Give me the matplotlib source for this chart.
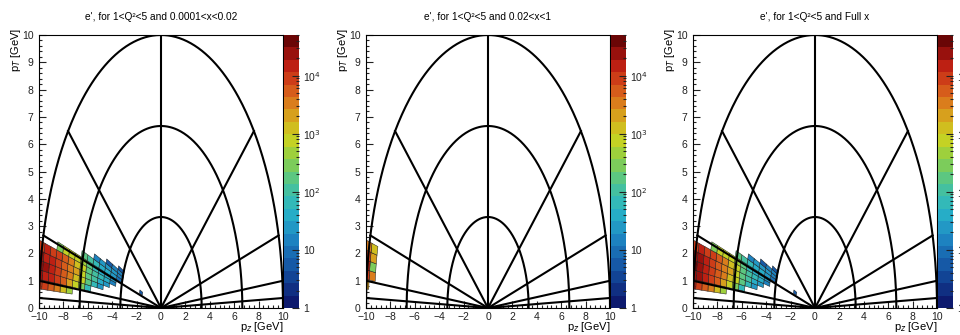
import numpy as np
import matplotlib
matplotlib.use("Agg")
import matplotlib.pyplot as plt
from matplotlib.colors import LinearSegmentedColormap, ListedColormap, LogNorm
from matplotlib.collections import PolyCollection
from matplotlib.ticker import MultipleLocator, LogLocator, FixedLocator, NullFormatter

plt.rcParams['font.family'] = ['Liberation Sans', 'DejaVu Sans']

# panel titles
titles = ["e', for 1<Q²<5 and 0.0001<x<0.02",
          "e', for 1<Q²<5 and 0.02<x<1",
          "e', for 1<Q²<5 and Full x"]

# bins: momentum |p| [GeV] and angle from the electron beam (-z) [deg]
p_edges = [3.3, 3.8, 4.3, 4.8, 5.3, 5.8, 6.3, 6.8, 7.3, 7.8, 8.3, 8.8, 9.3, 9.8, 10.3]
alpha_edges = [4, 6, 8, 10, 12, 14, 16, 18, 20, 22, 24]

# counts, rows = alpha bins (low -> high), cols = p bins (low -> high)
lowx_counts = [
    [0,  0,  0,  0,  0,   0,   0,    0,    400,  1500, 3000,  5000,  7000,  9000],
    [0,  0,  0,  0,  0,   60,  300,  800,  2000, 4500, 8000,  12000, 16000, 20000],
    [0,  0,  0,  20, 60,  180, 600,  1500, 3000, 6000, 10000, 14000, 22000, 28000],
    [0,  0,  20, 50, 90,  220, 700,  1700, 3500, 6500, 10000, 13000, 18000, 22000],
    [0,  15, 40, 55, 90,  200, 600,  1500, 3000, 5500, 8000,  10000, 12000, 8000],
    [0,  30, 45, 50, 80,  180, 500,  900,  700,  600,  300,   0,     0,     0],
    [8,  30, 40, 45, 60,  100, 150,  0,    0,    0,    0,     0,     0,     0],
    [15, 25, 30, 20, 15,  0,   0,    0,    0,    0,    0,     0,     0,     0],
    [12, 15, 5,  0,  0,   0,   0,    0,    0,    0,    0,     0,     0,     0],
    [6,  0,  0,  0,  0,   0,   0,    0,    0,    0,    0,     0,     0,     0],
]

highx_counts = [
    [0, 0, 0, 0, 0, 0, 0, 0, 0, 0, 0, 0, 0,    2500],
    [0, 0, 0, 0, 0, 0, 0, 0, 0, 0, 0, 0, 3000, 9000],
    [0, 0, 0, 0, 0, 0, 0, 0, 0, 0, 0, 0, 300,  12000],
    [0, 0, 0, 0, 0, 0, 0, 0, 0, 0, 0, 0, 2000, 8000],
    [0, 0, 0, 0, 0, 0, 0, 0, 0, 0, 0, 0, 1500, 3000],
    [0, 0, 0, 0, 0, 0, 0, 0, 0, 0, 0, 0, 0,    0],
    [0, 0, 0, 0, 0, 0, 0, 0, 0, 0, 0, 0, 0,    0],
    [0, 0, 0, 0, 0, 0, 0, 0, 0, 0, 0, 0, 0,    0],
    [0, 0, 0, 0, 0, 0, 0, 0, 0, 0, 0, 0, 0,    0],
    [0, 0, 0, 0, 0, 0, 0, 0, 0, 0, 0, 0, 0,    0],
]

# one stray low-momentum bin (p_lo, p_hi, alpha_lo, alpha_hi, count)
lowx_extra = [(1.6, 1.85, 17, 21, 6)]

# overlay grid: spheres of constant |p| and lines of constant eta
p_circles = [10 / 3, 20 / 3, 10]
eta_lines = [-4, -3, -2, -1, 0, 1, 2, 3, 4]
cbar_ticks = [1, 10, 100, 1000, 10000]
cbar_labels = ['1', '10', '10$^{2}$', '10$^{3}$', '10$^{4}$']

# ROOT-like rainbow palette, discrete bands
anchors = [(0.00, '#0d1a6e'), (0.12, '#1450a0'), (0.25, '#1e88c4'),
           (0.35, '#28b4c8'), (0.45, '#4cc494'), (0.55, '#8ccf48'),
           (0.62, '#c4d224'), (0.68, '#d4b81e'), (0.76, '#da801c'),
           (0.84, '#d4481a'), (0.92, '#b81812'), (1.00, '#6a0606')]
smooth = LinearSegmentedColormap.from_list('rootrain', anchors)
cmap = ListedColormap(smooth(np.linspace(0, 1, 22)))
norm = LogNorm(vmin=1, vmax=5e4)


def cell_polygon(p_lo, p_hi, a_lo, a_hi, n=4):
    a = np.radians(np.linspace(a_lo, a_hi, n))
    inner = np.column_stack([-p_lo * np.cos(a), p_lo * np.sin(a)])
    outer = np.column_stack([-p_hi * np.cos(a[::-1]), p_hi * np.sin(a[::-1])])
    return np.vstack([inner, outer])


def draw_hist(ax, counts, extra):
    polys, vals = [], []
    counts = np.asarray(counts)
    for i in range(counts.shape[0]):
        for j in range(counts.shape[1]):
            if counts[i, j] > 0:
                polys.append(cell_polygon(p_edges[j], p_edges[j + 1],
                                          alpha_edges[i], alpha_edges[i + 1]))
                vals.append(counts[i, j])
    for p_lo, p_hi, a_lo, a_hi, c in extra:
        polys.append(cell_polygon(p_lo, p_hi, a_lo, a_hi))
        vals.append(c)
    pc = PolyCollection(polys, cmap=cmap, norm=norm, edgecolors='#1a1a1a',
                        linewidths=0.35, zorder=2)
    pc.set_array(np.asarray(vals, dtype=float))
    ax.add_collection(pc)


def draw_grid(ax):
    th = np.linspace(0, np.pi, 300)
    for r in p_circles:
        ax.plot(r * np.cos(th), r * np.sin(th), color='black', lw=1.5, zorder=3)
    rmax = max(p_circles)
    for eta in eta_lines:
        theta = 2 * np.arctan(np.exp(-eta))
        ax.plot([0, rmax * np.cos(theta)], [0, rmax * np.sin(theta)],
                color='black', lw=1.5, zorder=3)


full_counts = (np.asarray(lowx_counts) + np.asarray(highx_counts)).tolist()
panels = [(lowx_counts, lowx_extra), (highx_counts, []), (full_counts, lowx_extra)]

W, H = 960, 335
fig = plt.figure(figsize=(W / 100, H / 100), dpi=100)
ax_left = [39, 366, 693]
ax_w, cb_w = 244, 15
top_px, bot_px = 35, 308

for k in range(3):
    ax = fig.add_axes([ax_left[k] / W, (H - bot_px) / H, ax_w / W, (bot_px - top_px) / H])
    cax = fig.add_axes([(ax_left[k] + ax_w + 1) / W, (H - bot_px) / H, cb_w / W,
                        (bot_px - top_px) / H])
    counts, extra = panels[k]
    draw_hist(ax, counts, extra)
    draw_grid(ax)

    ax.set_xlim(-10, 10)
    ax.set_ylim(0, 10)
    ax.xaxis.set_major_locator(MultipleLocator(2))
    ax.xaxis.set_minor_locator(MultipleLocator(0.4))
    ax.yaxis.set_major_locator(MultipleLocator(1))
    ax.yaxis.set_minor_locator(MultipleLocator(0.2))
    ax.tick_params(which='both', direction='in', top=False, right=False,
                   labelsize=7.5, colors='#222222', width=0.8)
    ax.tick_params(which='major', length=5)
    ax.tick_params(which='minor', length=2.5)
    ax.tick_params(axis='x', pad=3)
    ax.tick_params(axis='y', pad=4)
    for s in ax.spines.values():
        s.set_linewidth(0.8)

    ax.set_title(titles[k], fontsize=7.3, pad=10.5)
    ax.set_xlabel('p$_{z}$ [GeV]', fontsize=8, ha='right')
    ax.xaxis.set_label_coords(1.0, -0.045)
    ax.set_ylabel('p$_{T}$ [GeV]', fontsize=8, ha='right')
    ax.yaxis.set_label_coords(-0.066, 1.026)

    sm = plt.cm.ScalarMappable(cmap=cmap, norm=norm)
    cb = fig.colorbar(sm, cax=cax)
    cb.outline.set_linewidth(0)
    cax.yaxis.set_major_locator(FixedLocator(cbar_ticks))
    cax.set_yticklabels(cbar_labels)
    cax.yaxis.set_minor_locator(LogLocator(base=10, subs=np.arange(2, 10)))
    cax.yaxis.set_minor_formatter(NullFormatter())
    cax.tick_params(which='both', direction='in', labelsize=7.5, colors='#222222',
                    width=0.8, pad=3)
    cax.tick_params(which='major', length=5)
    cax.tick_params(which='minor', length=2.5)

fig.savefig('out.png', dpi=100, facecolor='white')
